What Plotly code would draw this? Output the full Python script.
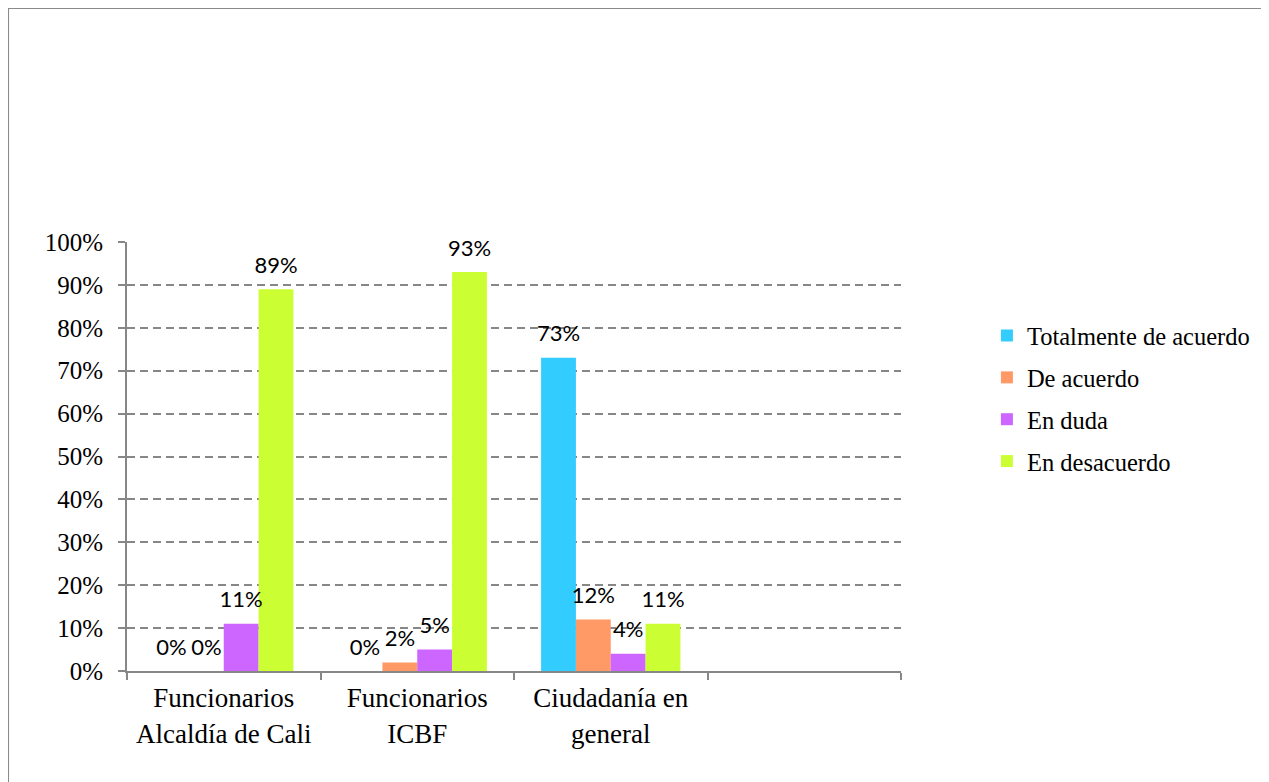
import plotly.graph_objects as go

categories = ["Funcionarios<br>Alcaldía de Cali", "Funcionarios<br>ICBF", "Ciudadanía en<br>general"]
blank_category = " "
series_names = ["Totalmente de acuerdo", "De acuerdo", "En duda", "En desacuerdo"]
totalmente = [0.00, 0.00, 0.73]
de_acuerdo = [0.00, 0.02, 0.12]
en_duda = [0.11, 0.05, 0.04]
en_desacuerdo = [0.89, 0.93, 0.11]
series_values = [totalmente, de_acuerdo, en_duda, en_desacuerdo]
colors = ["#33CCFF", "#FF9966", "#CC66FF", "#CCFF33"]
y_ticks = [0, 0.1, 0.2, 0.3, 0.4, 0.5, 0.6, 0.7, 0.8, 0.9, 1.0]

SERIF = "Liberation Serif"
LABEL_FONT = "Lato"
GRID = "#878787"

fig = go.Figure()
for i, (name, vals, col) in enumerate(zip(series_names, series_values, colors)):
    fig.add_trace(go.Bar(
        name=name, x=categories, y=vals, marker=dict(color=col, line=dict(width=0)),
        offsetgroup=str(i), legendgroup=str(i), hoverinfo="skip",
    ))
for i, (name, vals) in enumerate(zip(series_names, series_values)):
    fig.add_trace(go.Scatter(
        x=categories, y=vals, mode="markers+text",
        text=[f"{round(v*100)}%" for v in vals], textposition="top center",
        textfont=dict(family=LABEL_FONT, size=22, color="#000000"),
        marker=dict(size=16, opacity=0), offsetgroup=str(i),
        showlegend=False, hoverinfo="skip", cliponaxis=False,
    ))

fig.update_layout(
    width=1261, height=774,
    margin=dict(l=119, r=368, t=234, b=111),
    paper_bgcolor="white", plot_bgcolor="white",
    barmode="group", bargap=0.28, bargroupgap=0,
    scattermode="group", scattergap=0.28,
    font=dict(family=SERIF, size=24, color="#000000"),
    legend=dict(x=1.111, xanchor="left", y=0.635, yanchor="middle",
                font=dict(family=SERIF, size=24.5), tracegroupgap=7,
                bgcolor="rgba(0,0,0,0)"),
    xaxis=dict(type="category", categoryorder="array",
               categoryarray=categories + [blank_category],
               range=[-0.5, 3.5], tickson="boundaries", ticks="outside",
               ticklen=7, tickwidth=2, tickcolor=GRID,
               showline=True, linecolor=GRID, linewidth=2,
               showgrid=False, ticklabelstandoff=2,
               tickfont=dict(family=SERIF, size=27)),
    yaxis=dict(range=[0, 1.0], tickvals=y_ticks, tickformat=".0%",
               ticks="outside", ticklen=7, tickwidth=2, tickcolor=GRID,
               showline=True, linecolor=GRID, linewidth=2,
               showgrid=True, gridcolor=GRID, gridwidth=2, griddash="8px,5px",
               zeroline=False, ticklabelstandoff=10,
               tickfont=dict(family=SERIF, size=25)),
    shapes=[dict(type="rect", xref="paper", yref="paper",
                 x0=-0.1537, x1=2.0, y0=-1.0, y1=1.5455,
                 line=dict(color="#8a8a8a", width=2), layer="below")],
)

fig.write_html("out.html")
